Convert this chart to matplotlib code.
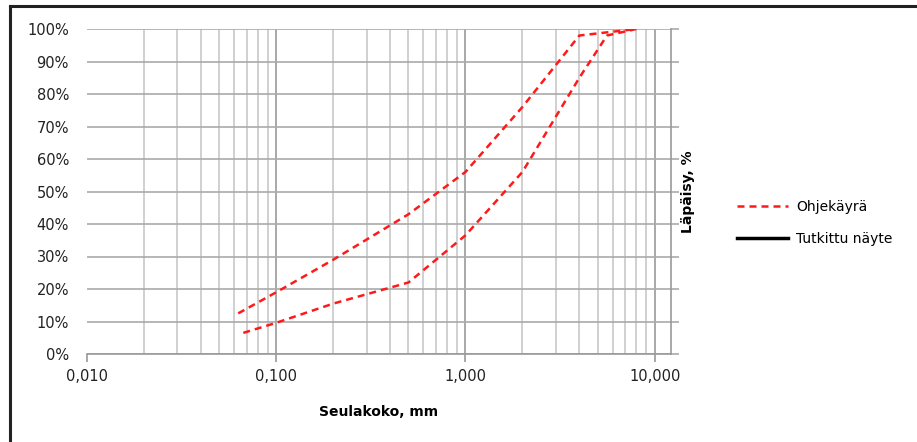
import matplotlib
matplotlib.use("Agg")
import matplotlib.pyplot as plt
from matplotlib.lines import Line2D
from matplotlib.ticker import PercentFormatter, FuncFormatter

# Ohjekäyrä (guide curve) limits: sieve size (mm) vs passing fraction
upper_size = [0.063, 0.1, 0.2, 0.5, 1.0, 2.0, 4.0, 8.0]
upper_pass = [0.125, 0.19, 0.29, 0.43, 0.56, 0.76, 0.98, 1.00]
lower_size = [0.067, 0.1, 0.2, 0.5, 1.0, 2.0, 4.0, 5.6, 8.0]
lower_pass = [0.065, 0.096, 0.155, 0.22, 0.365, 0.56, 0.85, 0.98, 1.00]

# Tutkittu näyte (sample) - no data shown in the chart
sample_size = []
sample_pass = []

W, H = 917, 442
fig = plt.figure(figsize=(W / 100, H / 100), dpi=100)
ax = fig.add_axes([87 / W, 1 - 354 / H, (671 - 87) / W, (354 - 29) / H])

ax.set_xscale("log")
ax.set_xlim(0.01, 12.2)
ax.set_ylim(0, 1)

# grid
for x in ax.xaxis.get_minorticklocs():
    if 0.01 < x < 12.2:
        ax.axvline(x, color="#c8c8c8", lw=1.2, zorder=0)
for x in [0.1, 1, 10]:
    ax.axvline(x, color="#999999", lw=1.2, zorder=0)
ax.set_yticks([i / 10 for i in range(11)])
ax.grid(axis="y", color="#aaaaaa", lw=1.2, zorder=0)
ax.set_axisbelow(True)

ax.plot(upper_size, upper_pass, color="#ff1a1a", lw=1.8, dashes=(2.8, 2), label="Ohjekäyrä")
ax.plot(lower_size, lower_pass, color="#ff1a1a", lw=1.8, dashes=(2.8, 2))
ax.plot(sample_size, sample_pass, color="black", lw=2.5, label="Tutkittu näyte")

for s in ["left", "top"]:
    ax.spines[s].set_visible(False)
ax.spines["bottom"].set_color("#999999")
ax.spines["right"].set_color("#999999")
ax.spines["bottom"].set_linewidth(1.2)
ax.spines["right"].set_linewidth(1.2)

ax.set_xticks([0.01, 0.1, 1, 10])
ax.xaxis.set_major_formatter(FuncFormatter(lambda v, p: f"{v:.3f}".replace(".", ",")))
ax.tick_params(axis="x", which="minor", length=0)
ax.tick_params(axis="x", which="major", length=6, color="#999999", width=1.2,
               labelsize=10.5, labelcolor="#222222", pad=5)
ax.yaxis.set_major_formatter(PercentFormatter(1.0, decimals=0))
ax.tick_params(axis="y", left=False, right=True, labelleft=True, labelright=False,
               length=6, color="#aaaaaa", width=1.2, labelsize=10.5, labelcolor="#222222", pad=7)

ax.set_xlabel("Seulakoko, mm", fontsize=10, fontweight="bold", labelpad=15)
ax.yaxis.set_label_position("right")
ax.set_ylabel("Läpäisy, %", fontsize=10, fontweight="bold", labelpad=1)

fig.legend(loc="upper left", bbox_to_anchor=(737 / W, 1 - 200 / H), frameon=False,
           fontsize=10, handlelength=3.7, handletextpad=0.55, labelspacing=1.3,
           borderpad=0, borderaxespad=0)

# outer chart frame (left and top edges visible)
fig.add_artist(Line2D([10 / W, 10 / W], [0, 1 - 6 / H], color="#222222", lw=2.2))
fig.add_artist(Line2D([10 / W, 1], [1 - 6 / H, 1 - 6 / H], color="#222222", lw=2.2))

fig.savefig("out.png", dpi=100)
